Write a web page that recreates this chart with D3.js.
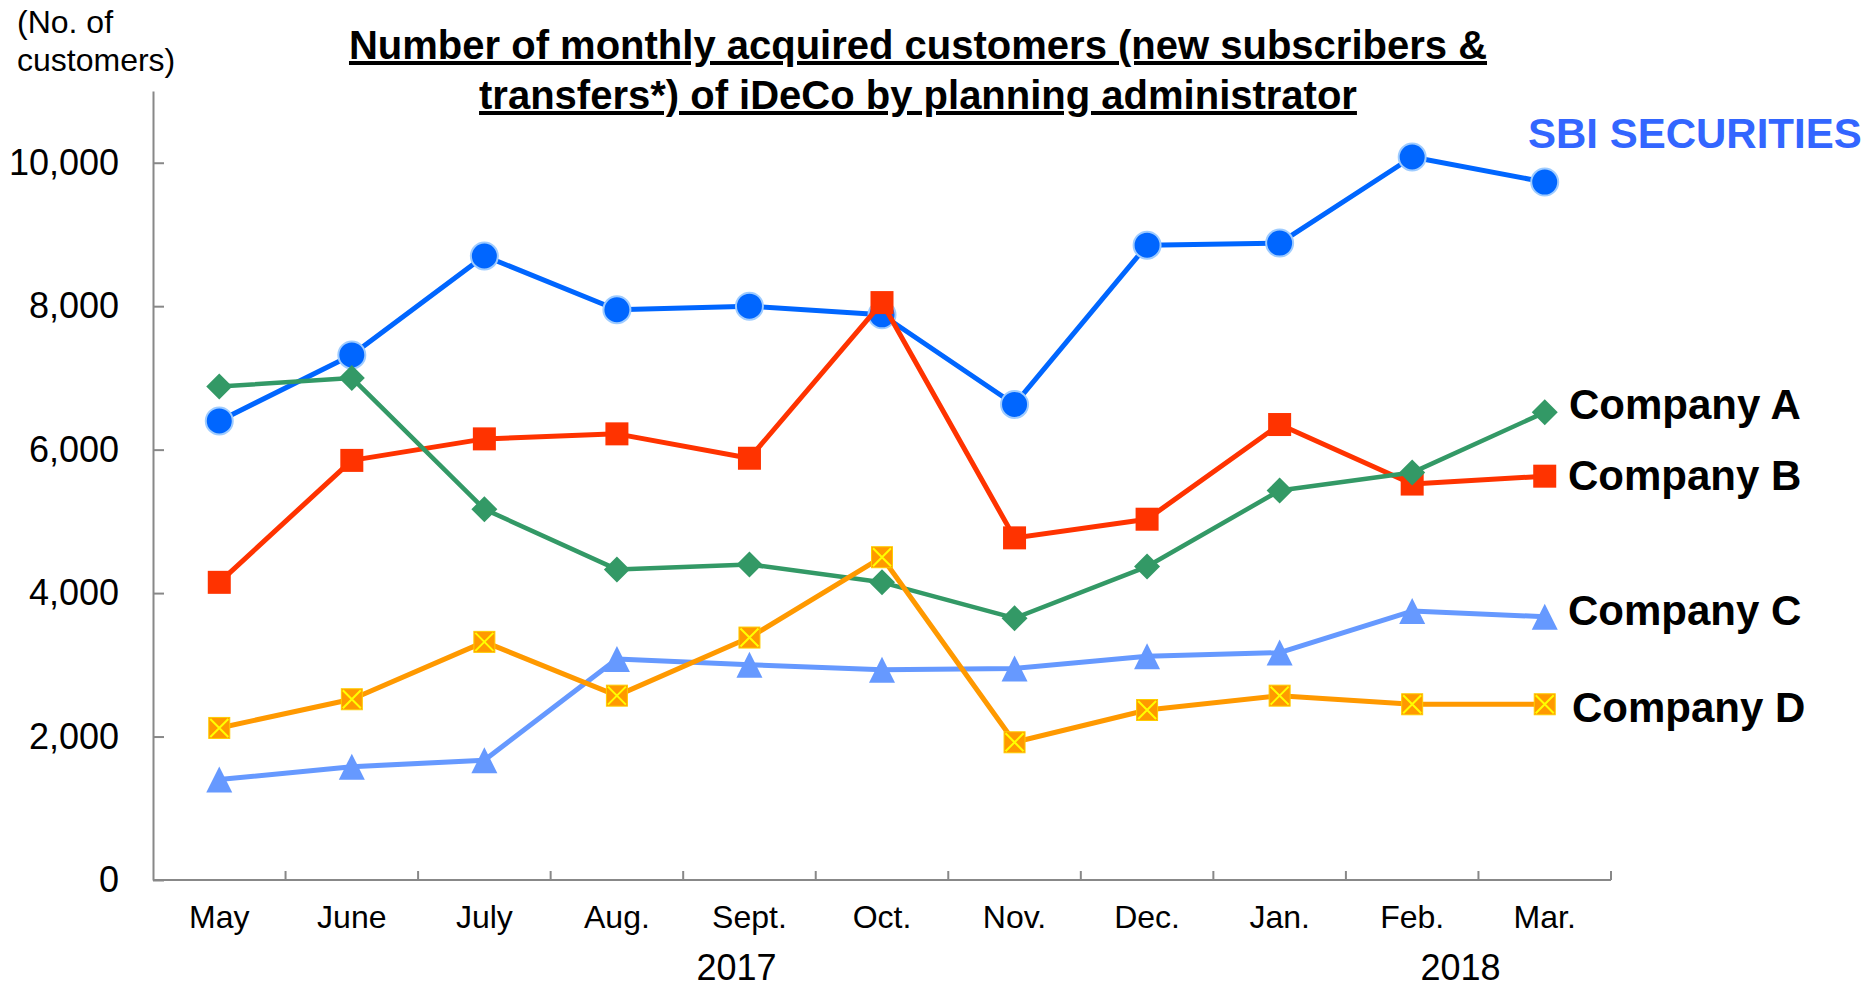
<!DOCTYPE html>
<html>
<head>
<meta charset="utf-8">
<script src="https://cdn.jsdelivr.net/npm/d3@7"></script>
<style>
  body { margin: 0; background: #fff; }
  text { font-family: "Liberation Sans", Arial, sans-serif; }
</style>
</head>
<body>
<div id="plot"></div>
<script>
// chart data
const months = ["May", "June", "July", "Aug.", "Sept.", "Oct.", "Nov.", "Dec.", "Jan.", "Feb.", "Mar."];
const sbi      = [6400, 7320, 8700, 7950, 8000, 7880, 6630, 8850, 8880, 10080, 9730];
const companyA = [6880, 7000, 5170, 4330, 4400, 4150, 3650, 4370, 5430, 5680, 6520];
const companyB = [4150, 5850, 6150, 6220, 5880, 8050, 4770, 5030, 6350, 5520, 5630];
const companyC = [1400, 1580, 1670, 3080, 3000, 2930, 2950, 3120, 3170, 3750, 3670];
const companyD = [2120, 2520, 3320, 2570, 3380, 4500, 1920, 2370, 2570, 2450, 2450];
const seriesNames = ["SBI SECURITIES", "Company A", "Company B", "Company C", "Company D"];
const yTicks = [0, 2000, 4000, 6000, 8000, 10000];
const years = ["2017", "2018"];
const titleLines = ["Number of monthly acquired customers (new subscribers &",
                    "transfers*) of iDeCo by planning administrator"];
const unitLines = ["(No. of", "customers)"];

const width = 1874;
const height = 987;
const margin = {top: 91, right: 263, bottom: 107, left: 153};

const svg = d3.select("#plot")
  .append("svg")
    .attr("width", width)
    .attr("height", height);

const xScale = d3.scaleBand()
    .domain(months)
    .range([margin.left, width - margin.right]);

const yScale = d3.scaleLinear()
    .domain([0, 11000])
    .range([height - margin.bottom, margin.top]);

const cx = m => xScale(m) + xScale.bandwidth() / 2;

// title
svg.append("g").selectAll("text")
  .data(titleLines)
  .join("text")
    .attr("x", 918)
    .attr("y", (d, i) => 59 + i * 50)
    .attr("text-anchor", "middle")
    .attr("font-size", 40)
    .attr("font-weight", "bold")
    .attr("text-decoration", "underline")
    .text(d => d);

// unit label
svg.append("g").selectAll("text")
  .data(unitLines)
  .join("text")
    .attr("x", 17)
    .attr("y", (d, i) => 33 + i * 38)
    .attr("font-size", 32)
    .text(d => d);

// y axis
const yAxis = d3.axisLeft(yScale)
    .tickValues(yTicks)
    .tickFormat(d3.format(","))
    .tickSizeInner(-11)
    .tickSizeOuter(0)
    .tickPadding(34);

const yg = svg.append("g")
    .attr("transform", `translate(${margin.left},0)`)
    .call(yAxis);
yg.select(".domain").attr("stroke", "#888").attr("stroke-width", 2);
yg.selectAll(".tick line").attr("stroke", "#888").attr("stroke-width", 2);
yg.selectAll(".tick text")
    .attr("font-size", 36)
    .attr("fill", "#000")
    .attr("font-family", "Liberation Sans, Arial, sans-serif");

// x axis
const x0 = margin.left, x1 = width - margin.right, yBase = yScale(0);
svg.append("line")
    .attr("x1", x0).attr("x2", x1)
    .attr("y1", yBase).attr("y2", yBase)
    .attr("stroke", "#888").attr("stroke-width", 2);

svg.append("g").selectAll("line")
  .data(months.slice(1).map(m => xScale(m)).concat([x1]))
  .join("line")
    .attr("x1", d => d).attr("x2", d => d)
    .attr("y1", yBase).attr("y2", yBase - 9)
    .attr("stroke", "#888").attr("stroke-width", 2);

svg.append("g").selectAll("text")
  .data(months)
  .join("text")
    .attr("x", d => cx(d))
    .attr("y", yBase + 48)
    .attr("text-anchor", "middle")
    .attr("font-size", 32)
    .text(d => d);

// year labels
const yearX = [cx("Sept.") - 13, xScale("Mar.") - 18];
svg.append("g").selectAll("text")
  .data(years)
  .join("text")
    .attr("x", (d, i) => yearX[i])
    .attr("y", yBase + 100)
    .attr("text-anchor", "middle")
    .attr("font-size", 36)
    .text(d => d);

// series
const line = d3.line()
    .x((d, i) => cx(months[i]))
    .y(d => yScale(d));

const styles = {
  "SBI SECURITIES": {color: "#0066FF", width: 5, marker: "circle", labelColor: "#3366FF", dy: -34, dx: -41},
  "Company A": {color: "#339966", width: 4.5, marker: "diamond", labelColor: "#000", dy: 7, dx: 0},
  "Company B": {color: "#FF3300", width: 5, marker: "square", labelColor: "#000", dy: 14, dx: -1},
  "Company C": {color: "#6699FF", width: 5, marker: "triangle", labelColor: "#000", dy: 8, dx: -1},
  "Company D": {color: "#FF9900", width: 5, marker: "xsquare", labelColor: "#000", dy: 18, dx: 3}
};

const seriesData = {
  "SBI SECURITIES": sbi,
  "Company A": companyA,
  "Company B": companyB,
  "Company C": companyC,
  "Company D": companyD
};

const drawOrder = ["SBI SECURITIES", "Company B", "Company A", "Company C", "Company D"];

drawOrder.forEach(name => {
  const vals = seriesData[name];
  const st = styles[name];
  const g = svg.append("g");

  g.append("path")
    .datum(vals)
    .attr("d", line)
    .attr("fill", "none")
    .attr("stroke", st.color)
    .attr("stroke-width", st.width)
    .attr("stroke-linejoin", "round");

  const pts = g.selectAll("g.pt")
    .data(vals)
    .join("g")
      .attr("class", "pt")
      .attr("transform", (d, i) => `translate(${cx(months[i])},${yScale(d)})`);

  if (st.marker === "circle") {
    pts.append("circle")
      .attr("r", 13.5)
      .attr("fill", st.color)
      .attr("stroke", "#9fccff")
      .attr("stroke-width", 2);
  } else if (st.marker === "diamond") {
    pts.append("path")
      .attr("d", "M0,-13L13,0L0,13L-13,0Z")
      .attr("fill", st.color);
  } else if (st.marker === "square") {
    pts.append("rect")
      .attr("x", -11.5).attr("y", -11.5)
      .attr("width", 23).attr("height", 23)
      .attr("fill", st.color);
  } else if (st.marker === "triangle") {
    pts.append("path")
      .attr("d", "M0,-13L13,13L-13,13Z")
      .attr("fill", st.color);
  } else if (st.marker === "xsquare") {
    pts.append("rect")
      .attr("x", -10.5).attr("y", -10.5)
      .attr("width", 21).attr("height", 21)
      .attr("fill", st.color)
      .attr("stroke", "#FFCC00")
      .attr("stroke-width", 1);
    pts.append("path")
      .attr("d", "M-9,-9L9,9M9,-9L-9,9")
      .attr("stroke", "#FFFF00")
      .attr("stroke-width", 2);
  }

  g.append("text")
    .attr("x", x1 - 42 + st.dx)
    .attr("y", yScale(vals[vals.length - 1]) + st.dy)
    .attr("font-size", 42)
    .attr("font-weight", "bold")
    .attr("fill", st.labelColor)
    .text(name);
});
</script>
</body>
</html>
